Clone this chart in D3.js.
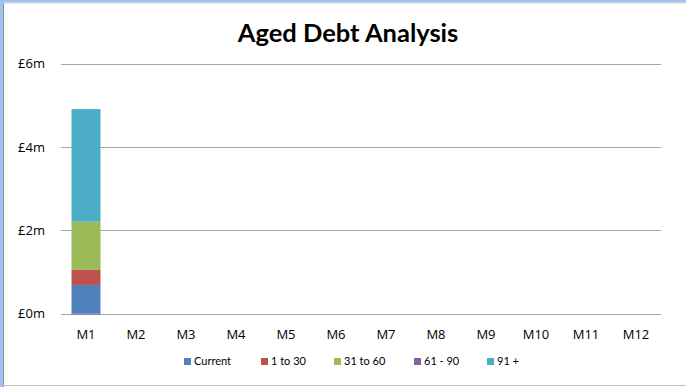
<!DOCTYPE html>
<html><head><meta charset="utf-8">
<script src="https://cdn.jsdelivr.net/npm/d3@7"></script>
<style>body{margin:0;background:#fff}svg{display:block}</style>
</head><body>
<script>
const categories = ["M1","M2","M3","M4","M5","M6","M7","M8","M9","M10","M11","M12"];
const seriesNames = ["Current","1 to 30","31 to 60","61 - 90","91 +"];
const seriesColors = ["#4F81BD","#C0504D","#9BBB59","#8064A2","#4BACC6"];
// values in £m
const current  = [0.69,0,0,0,0,0,0,0,0,0,0,0];
const d1to30   = [0.36,0,0,0,0,0,0,0,0,0,0,0];
const d31to60  = [1.16,0,0,0,0,0,0,0,0,0,0,0];
const d61to90  = [-0.02,0,0,0,0,0,0,0,0,0,0,0];
const d91plus  = [2.70,0,0,0,0,0,0,0,0,0,0,0];
const yTicks = [0,2,4,6];
const yTickLabels = ["£0m","£2m","£4m","£6m"];

const W=686,H=387;
const svg=d3.select("body").append("svg").attr("width",W).attr("height",H);
const font="Lato, 'Open Sans', sans-serif";
const axFont="'Open Sans', Lato, sans-serif";

// chart frame
svg.append("rect").attr("x",0).attr("y",0).attr("width",W).attr("height",2.5).attr("fill","#9DC3F0");
svg.append("rect").attr("x",0).attr("y",0).attr("width",3).attr("height",H).attr("fill","#9DC3F0");
svg.append("line").attr("x1",3.5).attr("x2",3.5).attr("y1",3).attr("y2",H).attr("stroke","#8c8c8c");
svg.append("line").attr("x1",3).attr("x2",W).attr("y1",3).attr("y2",3).attr("stroke","#c8c8c8");
svg.append("line").attr("x1",3).attr("x2",W).attr("y1",385.5).attr("y2",385.5).attr("stroke","#c0c0c0");

const x=d3.scaleBand().domain(categories).range([61,661]).paddingInner(0.42).paddingOuter(0.21);
const xc=d3.scaleBand().domain(categories).range([61,661]);
const y=d3.scaleLinear().domain([0,6]).range([313.7,63.7]);

// gridlines
svg.append("g").selectAll("line").data(yTicks).join("line")
  .attr("x1",61).attr("x2",661).attr("y1",d=>Math.round(y(d))+0.5).attr("y2",d=>Math.round(y(d))+0.5)
  .attr("stroke","#a6a6a6").attr("stroke-width",1);

// y labels
svg.append("g").selectAll("text").data(yTicks).join("text")
  .attr("x",45).attr("y",d=>y(d)+4.5).attr("text-anchor","end")
  .attr("font-family",axFont).attr("font-size",13).attr("fill","#000")
  .text((d,i)=>yTickLabels[i]);

// stacked bars (Excel style: positives up, negatives down)
const seriesVals=[current,d1to30,d31to60,d61to90,d91plus];
categories.forEach((c,ci)=>{
  let pos=0,neg=0;
  seriesVals.forEach((arr,si)=>{
    const v=arr[ci]; if(!v) return;
    let y0,y1;
    if(v>=0){y0=pos;y1=pos+v;pos=y1;} else {y0=neg;y1=neg+v;neg=y1;}
    svg.append("rect").attr("x",x(c)).attr("width",x.bandwidth())
      .attr("y",y(Math.max(y0,y1))).attr("height",Math.abs(y(y0)-y(y1)))
      .attr("fill",seriesColors[si]);
  });
});

// x labels
svg.append("g").selectAll("text").data(categories).join("text")
  .attr("x",d=>xc(d)+xc.bandwidth()/2).attr("y",339).attr("text-anchor","middle")
  .attr("font-family",axFont).attr("font-size",13).attr("fill","#000").text(d=>d);

// title
svg.append("text").attr("x",348).attr("y",42).attr("text-anchor","middle")
  .attr("font-family",font).attr("font-weight","bold").attr("font-size",25.5).attr("fill","#000")
  .text("Aged Debt Analysis");

// legend
const legX=[184,261,334,414,487];
const lg=svg.append("g").selectAll("g").data(seriesNames).join("g")
  .attr("transform",(d,i)=>`translate(${legX[i]},358)`);
lg.append("rect").attr("width",7).attr("height",7).attr("fill",(d,i)=>seriesColors[i]);
lg.append("text").attr("x",10).attr("y",7).attr("font-family",font).attr("font-size",11)
  .attr("fill","#000").text(d=>d);
</script>
</body></html>
